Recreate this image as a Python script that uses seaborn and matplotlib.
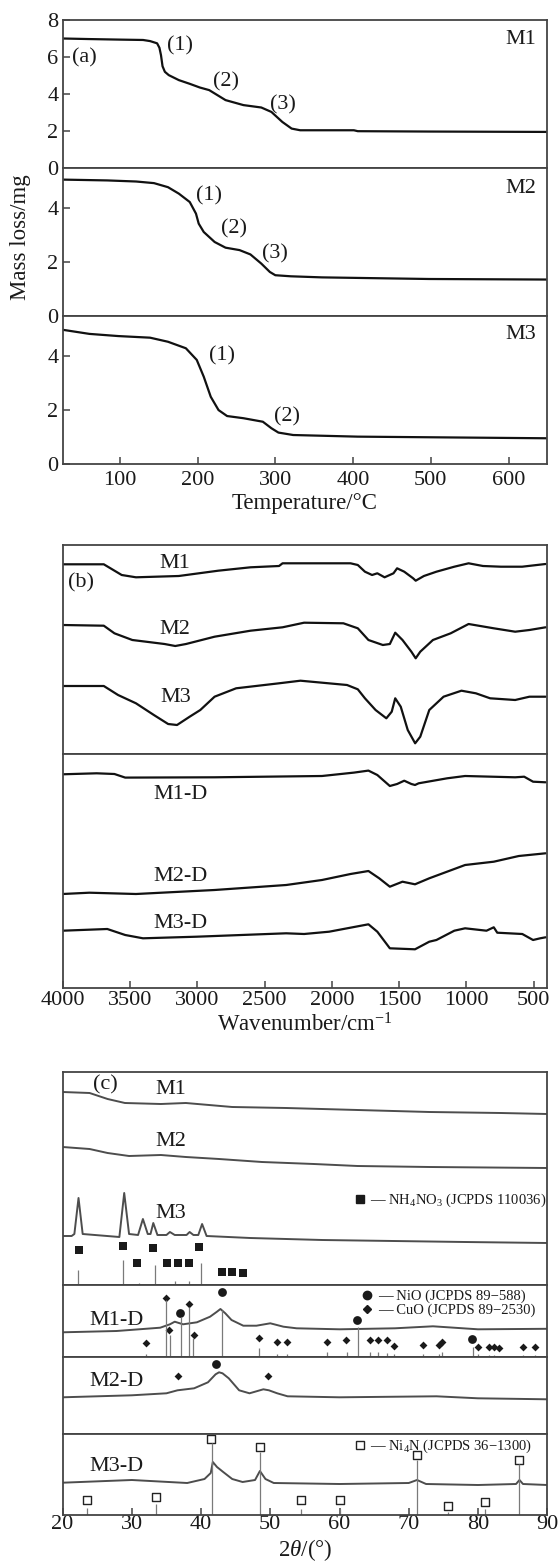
import numpy as np
import pandas as pd
import seaborn as sns
import matplotlib.pyplot as plt
from matplotlib.lines import Line2D

sns.set_theme(style='ticks')
plt.rcParams['font.family'] = ['Liberation Serif', 'DejaVu Serif']
plt.rcParams['mathtext.fontset'] = 'custom'
plt.rcParams['mathtext.rm'] = 'Liberation Serif'
plt.rcParams['mathtext.it'] = 'Liberation Serif:italic'

# ---------------- (a) TGA ----------------
m1_T = [27, 60, 100, 130, 139, 148, 151, 153, 155, 158, 163, 176, 190, 203, 215, 222, 236, 259, 282, 295, 309, 321, 332, 401, 406, 500, 649]
m1_w = [7.00, 6.97, 6.94, 6.92, 6.86, 6.74, 6.5, 6.1, 5.5, 5.2, 5.02, 4.75, 4.55, 4.35, 4.21, 4.03, 3.67, 3.4, 3.27, 3.03, 2.49, 2.13, 2.04, 2.04, 1.99, 1.97, 1.95]
m2_T = [27, 84, 121, 144, 162, 176, 190, 198, 201.5, 208, 222, 236, 254, 268, 282, 293, 300, 320, 360, 498, 649]
m2_w = [5.05, 5.02, 4.98, 4.92, 4.77, 4.53, 4.22, 3.79, 3.42, 3.11, 2.74, 2.53, 2.44, 2.28, 1.94, 1.63, 1.51, 1.47, 1.43, 1.37, 1.35]
m3_T = [27, 61, 98, 139, 162, 185, 199, 208, 217, 227, 238, 259, 284, 295, 304, 323, 406, 649]
m3_w = [4.96, 4.81, 4.73, 4.67, 4.52, 4.28, 3.85, 3.23, 2.49, 2.0, 1.78, 1.7, 1.57, 1.33, 1.17, 1.08, 1.02, 0.96]

# ---------------- (b) FTIR (relative height) ----------------
ir_m1_wn = [4000, 3694, 3561, 3455, 3137, 2844, 2604, 2392, 2366, 1861, 1807, 1754, 1701, 1662, 1608, 1542, 1515, 1462, 1396, 1377, 1316, 1223, 1090, 984, 877, 744, 586, 412]
ir_m1 = [189.7, 189.7, 179, 176.7, 178, 183.3, 186.7, 188, 190.7, 190.7, 189, 182.3, 179, 180.7, 176.7, 180.7, 185.7, 182.3, 175.7, 173.3, 178, 182.3, 187.3, 190.7, 188, 187.3, 187.3, 190]
ir_m2_wn = [4000, 3694, 3615, 3482, 3243, 3163, 3083, 2871, 2604, 2366, 2206, 1914, 1807, 1728, 1621, 1569, 1529, 1475, 1409, 1377, 1343, 1249, 1117, 984, 797, 638, 532, 412]
ir_m2 = [129, 128.3, 120.7, 114, 110, 108, 110, 117.3, 123.3, 126.7, 131.3, 130.7, 125.7, 114, 109, 110, 121.3, 114, 102.3, 95.7, 102.3, 114, 120.7, 130, 125.7, 122.3, 124, 126.7]
ir_m3_wn = [4000, 3694, 3588, 3455, 3322, 3216, 3150, 3056, 2977, 2871, 2711, 2392, 2233, 1887, 1807, 1754, 1675, 1595, 1555, 1529, 1488, 1436, 1381, 1343, 1276, 1170, 1037, 930, 824, 638, 532, 412]
ir_m3 = [68, 68, 59, 50.7, 39, 30, 29, 37.3, 44, 57.3, 65.7, 70.7, 73.3, 69, 64.7, 55.7, 44, 35.7, 42.3, 55.7, 47.3, 24, 10.7, 17.3, 44, 57.3, 63.3, 60.7, 55.7, 54, 57.3, 57.3]
ir_d1_wn = [4000, 3747, 3615, 3535, 2871, 2073, 1835, 1728, 1662, 1569, 1515, 1462, 1409, 1382, 1355, 1143, 1010, 638, 571, 505, 412]
ir_d1 = [214, 215, 214.3, 210.7, 211, 212.3, 215.7, 217.7, 213.3, 202.3, 204.3, 207.6, 204.3, 203.3, 205, 210, 212.3, 211, 211.6, 206.6, 206]
ir_d2_wn = [4000, 3801, 3455, 2871, 2339, 2073, 1861, 1728, 1648, 1569, 1475, 1382, 1276, 1010, 797, 611, 412]
ir_d2 = [94.3, 95.6, 94.3, 98.3, 103.3, 108.3, 114.3, 117.3, 110, 101.6, 106.6, 104, 110, 123.3, 126.6, 132.3, 135]
ir_d3_wn = [4000, 3668, 3535, 3403, 3004, 2339, 2206, 2020, 1728, 1662, 1569, 1382, 1276, 1223, 1090, 1010, 851, 797, 771, 585, 505, 452, 412]
ir_d3 = [57.6, 59.3, 53.3, 50, 51.6, 55, 54.3, 56.6, 64, 56.6, 40, 39, 46.6, 48.3, 57.6, 60, 57.6, 61, 55.6, 54.3, 48.3, 50, 51]

# ---------------- (c) XRD (relative height) ----------------
x_m1_2t = [20, 23.9, 26.5, 29.0, 34.2, 37.8, 44.5, 52.3, 62.6, 73, 83.3, 90]
x_m1 = [193, 192, 186, 182, 181, 182, 178, 177, 175, 173, 172, 171]
x_m2_2t = [20, 23.9, 26.5, 29.6, 34.2, 37.8, 42.6, 48.8, 56.3, 62.6, 73, 90]
x_m2 = [138, 136, 132, 129, 130, 128, 126, 123, 121, 119, 118, 117]
x_m3_2t = [20, 21.3, 21.7, 22.3, 22.9, 28.2, 28.9, 29.6, 30.9, 31.6, 32.3, 32.7, 33.1, 33.7, 35.0, 35.5, 36.2, 37.9, 38.35, 38.9, 39.6, 40.15, 40.8, 47.1, 57.5, 67.8, 78.1, 90]
x_m3 = [49, 49, 51, 87, 51, 48, 92, 51, 50, 66, 51, 51, 62, 50, 50, 53, 50, 50, 53, 50, 50, 61, 49, 47, 45, 44, 43, 42]
nh_2t = [22.4, 28.7, 30.7, 33.0, 35.1, 36.6, 38.2, 39.7, 43.0, 44.4, 46.0]
nh_h = [35, 39, 22, 37, 22, 22, 22, 38, 13, 13, 12]
nh_stick_2t = [22.2, 28.7, 31.1, 33.4, 36.3, 38.2, 40.0]
nh_stick_h = [15, 25, 2.5, 20, 4.5, 4.5, 22]

d1_2t = [20, 27.8, 34.1, 35.5, 36.2, 37.4, 39.4, 41.3, 42.3, 42.8, 43.5, 44.4, 46.1, 48.0, 50.0, 51.9, 53.8, 60, 68, 73.5, 80, 90]
d1 = [25, 26.3, 29.6, 33, 35.6, 33, 35, 40.6, 45.6, 48.3, 44, 37.3, 31.6, 31.6, 34, 30.6, 29, 28, 29, 31, 28, 28.5]
nio_2t = [37.0, 43.0, 62.5, 79.1]
nio_h = [44, 65.6, 37, 18]
nio_stick_2t = [37.05, 43.0, 62.7, 79.3]
nio_stick_h = [40.6, 47, 30.6, 10]
cuo_2t = [32.05, 35.0, 35.4, 38.3, 39.0, 48.3, 50.9, 52.4, 58.2, 61.0, 64.4, 65.6, 66.8, 67.9, 72.0, 74.3, 74.8, 80.0, 81.6, 82.3, 83.1, 86.5, 88.3]
cuo_h = [14, 59.6, 27, 53, 22, 19.6, 15, 15, 15.6, 17, 17, 17, 17, 11.6, 12, 12, 15.6, 10.6, 10.6, 10.6, 9.6, 10, 10]
cuo_stick_2t = [32.05, 35.0, 35.5, 38.25, 38.8, 48.4, 51.0, 52.4, 58.2, 61.1, 64.4, 65.6, 66.8, 67.9, 72.0, 74.3, 74.8, 80.0, 81.6, 82.3, 86.5, 88.3]
cuo_stick_h = [3, 57, 22, 50.6, 19, 9, 3, 3, 5, 5, 5, 5, 4, 3, 3, 3, 5, 3, 2, 2, 2, 2]

d2_2t = [20, 30, 35, 36.6, 39, 41, 42.1, 42.6, 43.1, 44, 45.5, 47, 49, 49.8, 51, 52.5, 60, 74, 80, 90]
d2 = [37, 39, 41, 44, 46, 52, 60, 62, 61, 56, 44, 41, 45, 44, 41, 38, 37, 38, 36, 35]
d2_nio_2t = [42.1]
d2_nio_h = [70]
d2_cuo_2t = [36.6, 49.6]
d2_cuo_h = [58, 58]

d3_2t = [20, 30, 38, 40.5, 41.4, 41.7, 42.3, 43.2, 44.5, 46, 47.8, 48.5, 49.3, 50.5, 60, 70, 71.2, 72.5, 80, 85.5, 86, 86.5, 90]
d3 = [32.3, 35, 32, 36, 42, 53, 48, 43, 36, 33, 35, 44, 36, 32, 31, 32, 35, 31, 30, 31, 35, 31, 30]
ni4n_2t = [41.5, 48.5, 71.2, 85.9, 23.5, 33.5, 54.4, 60.1, 75.7, 81.0]
ni4n_h = [76, 68, 59.6, 54.6, 14.6, 18, 14.6, 14.6, 9, 12.6]
ni4n_stick_2t = [23.5, 33.5, 41.6, 48.5, 54.4, 60.1, 71.2, 75.7, 81.0, 85.9]
ni4n_stick_h = [7, 11, 72, 63, 6, 6, 55, 3, 6, 51]

# ---------------- layout ----------------
W, H = 558, 1568
fig = plt.figure(figsize=(W / 100, H / 100), dpi=100)
L, R = 62.6, 547.2
SPINE = '#444444'
TXT = '#1a1a1a'
FS = 16


def box(top, bottom):
    return [L / W, 1 - bottom / H, (R - L) / W, (bottom - top) / H]


def style(ax, bottom_ticks=False, left_ticks=False, xpad=3):
    for s in ax.spines.values():
        s.set_color(SPINE)
        s.set_linewidth(1.3)
        s.set_visible(True)
    ax.tick_params(direction='in', length=5, width=1.1, color=SPINE,
                   labelsize=FS, labelcolor=TXT)
    ax.tick_params(axis='x', bottom=bottom_ticks, labelbottom=bottom_ticks, pad=xpad)
    ax.tick_params(axis='y', left=left_ticks, labelleft=left_ticks, pad=3)
    ax.set_xlabel('')
    ax.set_ylabel('')


def curve(ax, x, y, color='#111111', lw=1.6):
    sns.lineplot(x=x, y=y, ax=ax, color=color, lw=lw, sort=False, estimator=None)


# (a)
tga = [(m1_T, m1_w, 20, 168, 8.0, [0, 2, 4, 6, 8]),
       (m2_T, m2_w, 168, 316, 5.48, [0, 2, 4]),
       (m3_T, m3_w, 316, 464.3, 5.47, [0, 2, 4])]
axa = []
for T, w, top, bot, ymax, yt in tga:
    ax = fig.add_axes(box(top, bot))
    curve(ax, T, w)
    ax.set_xlim(26.5, 649.6)
    ax.set_ylim(0, ymax)
    ax.set_yticks(yt)
    style(ax, left_ticks=True)
    axa.append(ax)
axa[2].tick_params(axis='x', bottom=True, labelbottom=True, pad=5)
axa[2].set_xticks([100, 200, 300, 400, 500, 600])
axa[2].set_xlabel('Temperature/°C', fontsize=16.5, color=TXT, labelpad=2)

kw = dict(fontsize=FS, color=TXT, ha='center', va='center')
axa[0].text(55, 5.93, '(a)', **kw)
axa[0].text(616, 6.97, 'M1', **kw)
axa[0].text(178, 6.6, '(1)', **kw)
axa[0].text(236, 4.66, '(2)', **kw)
axa[0].text(310, 3.4, '(3)', **kw)
axa[1].text(616, 4.73, 'M2', **kw)
axa[1].text(215, 4.46, '(1)', **kw)
axa[1].text(247, 3.21, '(2)', **kw)
axa[1].text(300, 2.31, '(3)', **kw)
axa[2].text(616, 4.77, 'M3', **kw)
axa[2].text(231, 4.01, '(1)', **kw)
axa[2].text(315, 1.76, '(2)', **kw)
fig.text(21 / W, 1 - 237 / H, 'Mass loss/mg', rotation=90, fontsize=16.5,
         color=TXT, ha='center', va='center')

# (b)
axb1 = fig.add_axes(box(545, 754))
for x, y in [(ir_m1_wn, ir_m1), (ir_m2_wn, ir_m2), (ir_m3_wn, ir_m3)]:
    curve(axb1, x, y)
axb1.set_xlim(4000, 400)
axb1.set_ylim(0, 209)
style(axb1)
axb1.text(3867, 171, '(b)', **kw)
axb1.text(3163, 191, 'M1', **kw)
axb1.text(3163, 124, 'M2', **kw)
axb1.text(3163, 56, 'M3', **kw)

axb2 = fig.add_axes(box(754, 988.3))
for x, y in [(ir_d1_wn, ir_d1), (ir_d2_wn, ir_d2), (ir_d3_wn, ir_d3)]:
    curve(axb2, x, y)
axb2.set_xlim(4000, 400)
axb2.set_ylim(0, 234.3)
style(axb2, bottom_ticks=True, xpad=2)
axb2.set_xticks([4000, 3500, 3000, 2500, 2000, 1500, 1000, 500])
axb2.set_xlabel('Wavenumber/cm$^{-1}$', fontsize=16.5, color=TXT, labelpad=2)
axb2.text(3123, 194, 'M1-D', **kw)
axb2.text(3123, 112, 'M2-D', **kw)
axb2.text(3123, 65, 'M3-D', **kw)

# (c)
XC = '#4d4d4d'
STK = '#7a7a7a'
axc1 = fig.add_axes(box(1071.7, 1285))
for x, y in [(x_m1_2t, x_m1), (x_m2_2t, x_m2), (x_m3_2t, x_m3)]:
    curve(axc1, x, y, color=XC, lw=1.4)
axc1.vlines(nh_stick_2t, 0, nh_stick_h, color=STK, lw=0.9)
sns.scatterplot(x=nh_2t, y=nh_h, ax=axc1, marker='s', color='k', s=30, linewidth=0)
axc1.set_ylim(0, 213.3)
axc1.text(26.2, 200, '(c)', **kw)
axc1.text(35.6, 195, 'M1', **kw)
axc1.text(35.6, 143, 'M2', **kw)
axc1.text(35.6, 72, 'M3', **kw)

axc2 = fig.add_axes(box(1285, 1357.3))
curve(axc2, d1_2t, d1, color=XC, lw=1.4)
axc2.vlines(nio_stick_2t, 0, nio_stick_h, color=STK, lw=0.9)
axc2.vlines(cuo_stick_2t, 0, cuo_stick_h, color=STK, lw=0.9)
sns.scatterplot(x=nio_2t, y=nio_h, ax=axc2, marker='o', color='k', s=40, linewidth=0)
sns.scatterplot(x=cuo_2t, y=cuo_h, ax=axc2, marker='D', color='k', s=16, linewidth=0)
axc2.set_ylim(0, 72.3)
axc2.text(27.8, 37, 'M1-D', **kw)

axc3 = fig.add_axes(box(1357.3, 1434.3))
curve(axc3, d2_2t, d2, color=XC, lw=1.4)
sns.scatterplot(x=d2_nio_2t, y=d2_nio_h, ax=axc3, marker='o', color='k', s=40, linewidth=0)
sns.scatterplot(x=d2_cuo_2t, y=d2_cuo_h, ax=axc3, marker='D', color='k', s=16, linewidth=0)
axc3.set_ylim(0, 77)
axc3.text(27.8, 52.6, 'M2-D', **kw)

axc4 = fig.add_axes(box(1434.3, 1515))
curve(axc4, d3_2t, d3, color=XC, lw=1.4)
axc4.vlines(ni4n_stick_2t, 0, ni4n_stick_h, color=STK, lw=0.9)
sns.scatterplot(x=ni4n_2t, y=ni4n_h, ax=axc4, marker='s', s=26,
                facecolor='white', edgecolor='#222222', linewidth=1.0)
axc4.set_ylim(0, 80.7)
axc4.text(27.8, 48.6, 'M3-D', **kw)

for ax in (axc1, axc2, axc3, axc4):
    ax.set_xlim(20, 90)
    style(ax)
axc4.tick_params(axis='x', bottom=True, labelbottom=True, pad=0)
axc4.set_xticks([20, 30, 40, 50, 60, 70, 80, 90])
axc4.set_xlabel(r'2$\it{\theta}$/(°)', fontsize=16.5, color=TXT, labelpad=2)

lkw = dict(frameon=False, fontsize=10.5, handlelength=0.8, handletextpad=0.3,
           borderaxespad=0, labelspacing=0.05, labelcolor=TXT)
sq = Line2D([], [], marker='s', color='k', ls='', ms=5.5)
axc1.legend([sq], ['— NH$_4$NO$_3$ (JCPDS 110036)'], loc='upper left',
            bbox_to_anchor=(0.59, 0.465), **lkw)
ci = Line2D([], [], marker='o', color='k', ls='', ms=6)
di = Line2D([], [], marker='D', color='k', ls='', ms=4)
axc2.legend([ci, di], ['— NiO (JCPDS 89−588)', '— CuO (JCPDS 89−2530)'],
            loc='upper left', bbox_to_anchor=(0.605, 1.02), **lkw)
os_ = Line2D([], [], marker='s', color='#222222', mfc='white', ls='', ms=5.5, mew=1.0)
axc4.legend([os_], ['— Ni$_4$N (JCPDS 36−1300)'], loc='upper left',
            bbox_to_anchor=(0.59, 1.03), **lkw)

fig.savefig('out.png', dpi=100)
